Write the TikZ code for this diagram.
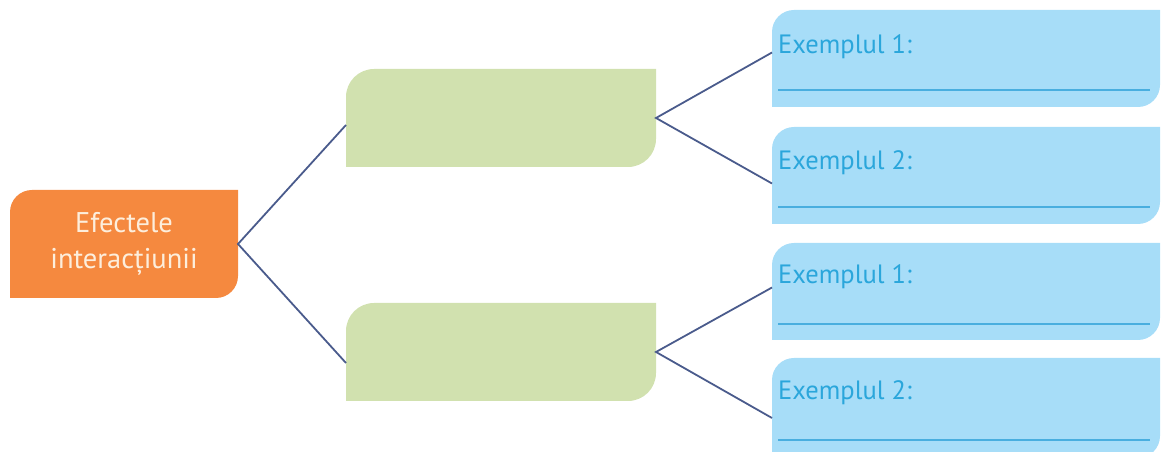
\documentclass[tikz,border=0pt]{standalone}
\usepackage{fontspec}
\setmainfont{PT Sans}
\usetikzlibrary{calc}
\pgfdeclarelayer{background}
\pgfsetlayers{background,main}
\definecolor{orangec}{HTML}{F5893F}
\definecolor{greenc}{HTML}{D1E1AF}
\definecolor{bluec}{HTML}{A7DDF8}
\definecolor{linec}{HTML}{4A5B8C}
\definecolor{textblue}{HTML}{2AA6DB}
\definecolor{ulc}{HTML}{49AEDF}
\definecolor{creamc}{HTML}{FDEEDC}
\newcommand\roundbox[3]{% node, colour, radius
  \begin{pgfonlayer}{background}
  \fill[#2] (#1.south west) -- ([yshift=-#3]#1.north west)
    arc[start angle=180,end angle=90,radius=#3] -- (#1.north east)
    -- ([yshift=#3]#1.south east)
    arc[start angle=0,end angle=-90,radius=#3] -- cycle;
  \end{pgfonlayer}}
\tikzset{
  box/.style={rectangle,inner sep=0pt,anchor=north west,outer sep=0pt},
  greenbox/.style={box,minimum width=310pt,minimum height=98pt},
  bluebox/.style={box,minimum width=388pt,minimum height=97pt},
  link/.style={linec,line width=1.8pt},
  ex/.style={anchor=west,text=textblue,font=\fontsize{26.5}{30}\selectfont,inner sep=0pt},
  ul/.style={ulc,line width=1.3pt},
}
\begin{document}
\begin{tikzpicture}[x=1pt,y=1pt]
\useasboundingbox (0,0) rectangle (1163,452);
\clip (0,0) rectangle (1163,452);
% orange root
\node[box,minimum width=228pt,minimum height=108pt,align=center,
  text=creamc,font=\fontsize{28.5}{36}\selectfont] (root) at (10,262)
  {Efectele\\interacțiunii};
\roundbox{root}{orangec}{22pt}
% green boxes
\node[greenbox] (g1) at (346,383) {};
\node[greenbox] (g2) at (346,149) {};
\roundbox{g1}{greenc}{28pt}
\roundbox{g2}{greenc}{28pt}
% blue boxes
\node[bluebox] (b1) at (772,442) {};
\node[bluebox] (b2) at (772,325) {};
\node[bluebox] (b3) at (772,209) {};
\node[bluebox,minimum height=100pt] (b4) at (772,94) {};
\foreach \b in {b1,b2,b3,b4}{\roundbox{\b}{bluec}{22pt}}
% texts
\node[ex] (t1) at ([shift={(6,-37)}]b1.north west) {Exemplul 1:};
\node[ex] (t2) at ([shift={(6,-36)}]b2.north west) {Exemplul 2:};
\node[ex] (t3) at ([shift={(6,-34)}]b3.north west) {Exemplul 1:};
\node[ex] (t4) at ([shift={(6,-35)}]b4.north west) {Exemplul 2:};
% underlines
\draw[ul] ([shift={(6,-80)}]b1.north west) -- ([shift={(-10,-80)}]b1.north east);
\draw[ul] ([shift={(6,-80)}]b2.north west) -- ([shift={(-10,-80)}]b2.north east);
\draw[ul] ([shift={(6,-81)}]b3.north west) -- ([shift={(-10,-81)}]b3.north east);
\draw[ul] ([shift={(6,-82)}]b4.north west) -- ([shift={(-10,-82)}]b4.north east);
% connectors
\draw[link] ([yshift=-7pt]g1.west) -- (root.east) -- ([yshift=-11pt]g2.west);
\draw[link] ([yshift=6pt]b1.west) -- (g1.east) -- ([yshift=-8pt]b2.west);
\draw[link] ([yshift=4pt]b3.west) -- (g2.east) -- ([yshift=-10pt]b4.west);
\end{tikzpicture}
\end{document}
